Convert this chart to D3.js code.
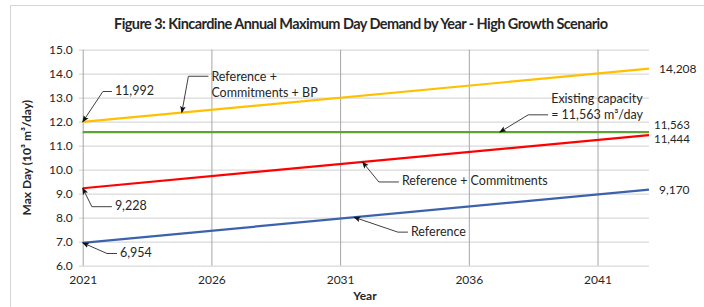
<!DOCTYPE html>
<html>
<head>
<meta charset="utf-8">
<script src="https://cdn.jsdelivr.net/npm/d3@7"></script>
<style>
	body { margin: 0; background: #fff; }
	text { font-family: Lato, "Open Sans", sans-serif; fill: #262626; }
</style>
</head>
<body>
<div id="chart"></div>
<script>
var years = [2021, 2043];
var referenceValues = [6.954, 9.170];
var commitmentsValues = [9.228, 11.444];
var commitmentsBpValues = [11.992, 14.208];
var capacityValues = [11.563, 11.563];

var xTicks = [2021, 2026, 2031, 2036, 2041];
var yTicks = [6, 7, 8, 9, 10, 11, 12, 13, 14, 15];

var seriesNames = ["Reference + Commitments + BP", "Existing capacity", "Reference + Commitments", "Reference"];
var seriesValues = [commitmentsBpValues, capacityValues, commitmentsValues, referenceValues];
var seriesColors = ["#ffc000", "#5fa332", "#ff0000", "#3d62ad"];

// callouts: text lines, arrow target (year, value), text anchor (year, value)
var calloutText = [
	["11,992"],
	["Reference +", "Commitments + BP"],
	["Existing capacity", "= 11,563 m\u00b3/day"],
	["Reference + Commitments"],
	["Reference"],
	["9,228"],
	["6,954"]
];
var calloutTarget = [
	[2021, 11.992], [2024.85, 12.38], [2037.2, 11.563], [2031.87, 10.32],
	[2031.54, 8.02], [2021, 9.228], [2021, 6.954]
];
var calloutAnchor = [
	[2022.25, 13.3], [2026.0, 13.55], [2039.2, 12.63], [2033.4, 9.53],
	[2033.75, 7.44], [2022.25, 8.5], [2022.45, 6.55]
];

var endLabels = ["14,208", "11,563", "11,444", "9,170"];
var endLabelShift = [0, -6.8, 3.6, 0];

var width = 704,
	height = 307,
	plot = { left: 82.7, right: 649, top: 49.7, bottom: 265.7 };

var svg = d3.select("#chart")
	.append("svg")
	.attr("width", width)
	.attr("height", height);

var xScale = d3.scaleLinear().domain([2021, 2043]).range([plot.left, plot.right]);
var yScale = d3.scaleLinear().domain([6, 15]).range([plot.bottom, plot.top]);

// frame
svg.append("path")
	.attr("d", "M10.5," + height + "V5.5H" + width)
	.attr("fill", "none")
	.attr("stroke", "#d4d4d4");

svg.append("defs").append("marker")
	.attr("id", "arrow")
	.attr("viewBox", "0 0 10 10")
	.attr("refX", 9)
	.attr("refY", 5)
	.attr("markerWidth", 7)
	.attr("markerHeight", 7)
	.attr("orient", "auto")
	.append("path")
	.attr("d", "M0,1L10,5L0,9L2,5Z")
	.attr("fill", "#111");

// title
svg.append("text")
	.attr("x", 361)
	.attr("y", 29)
	.attr("text-anchor", "middle")
	.style("font-size", "14.5px")
	.style("font-weight", "bold")
	.attr("textLength", 494)
	.text("Figure 3: Kincardine Annual Maximum Day Demand by Year - High Growth Scenario");

// horizontal grid + y axis labels
var yAxis = d3.axisLeft(yScale)
	.tickValues(yTicks)
	.tickFormat(d3.format(".1f"))
	.tickSize(-(plot.right - plot.left) - 4)
	.tickPadding(6);

var yAxisGroup = svg.append("g")
	.attr("transform", "translate(" + (plot.left - 4) + ",0)")
	.call(yAxis);
yAxisGroup.select(".domain").remove();
yAxisGroup.selectAll("line").attr("stroke", "#d9d9d9").attr("stroke-width", 1.2);
yAxisGroup.selectAll("text").style("font-size", "12px").attr("fill", "#262626").attr("x", -6);

// vertical grid + x axis labels
var xAxis = d3.axisBottom(xScale)
	.tickValues(xTicks)
	.tickFormat(d3.format("d"))
	.tickSize(-(plot.bottom - plot.top))
	.tickPadding(10);

var xAxisGroup = svg.append("g")
	.attr("transform", "translate(0," + plot.bottom + ")")
	.call(xAxis);
xAxisGroup.select(".domain").remove();
xAxisGroup.selectAll("line").attr("stroke", "#a6a6a6");
xAxisGroup.selectAll("text").style("font-size", "12px").attr("fill", "#262626");

// axis titles
svg.append("text")
	.attr("x", 365)
	.attr("y", 300)
	.attr("text-anchor", "middle")
	.style("font-size", "12px")
	.style("font-weight", "bold")
	.text("Year");

svg.append("text")
	.attr("transform", "translate(31," + ((plot.top + plot.bottom) / 2) + ") rotate(-90)")
	.attr("text-anchor", "middle")
	.style("font-size", "12px")
	.style("font-weight", "bold")
	.text("Max Day (10\u00b3 m\u00b3/day)");

// series lines
var line = d3.line()
	.x(function (d) { return xScale(d[0]); })
	.y(function (d) { return yScale(d[1]); });

seriesValues.forEach(function (values, i) {
	svg.append("path")
		.datum(years.map(function (y, j) { return [y, values[j]]; }))
		.attr("d", line)
		.attr("fill", "none")
		.attr("stroke", seriesColors[i])
		.attr("stroke-width", 2.2)
		.attr("class", "series-" + i)
		.append("title").text(seriesNames[i]);
});

// value labels at line ends
endLabels.forEach(function (label, i) {
	var values = seriesValues[i];
	svg.append("text")
		.attr("x", xScale(years[1]) + (i === 1 || i === 2 ? 5 : 10))
		.attr("y", yScale(values[values.length - 1]) + endLabelShift[i])
		.attr("dy", "0.35em")
		.style("font-size", (i === 1 || i === 2) ? "11.5px" : "12px")
		.text(label);
});

// callouts with leader arrows
calloutText.forEach(function (lines, i) {
	var tx = xScale(calloutTarget[i][0]),
		ty = yScale(calloutTarget[i][1]),
		ax = xScale(calloutAnchor[i][0]),
		ay = yScale(calloutAnchor[i][1]);
	var lineHeight = 16.5;
	var textTop = ay - (lines.length > 1 ? lineHeight / 2 : 0);

	var g = svg.append("g");
	lines.forEach(function (t, k) {
		g.append("text")
			.attr("x", ax)
			.attr("y", textTop + k * lineHeight)
			.attr("dy", "0.35em")
			.style("font-size", "12.5px")
			.text(t);
	});

	// leader leaves the text from its left side, runs flat, then slants to the target
	var startY = ay + (lines.length > 1 ? 0 : 1);
	if (i === 1) startY = textTop;
	if (i === 2) startY = textTop + lineHeight;
	var startX = ax - 3;
	var kneeX = startX - (i === 4 || i === 6 ? 10 : i === 0 ? 9 : 20);
	g.append("path")
		.attr("d", "M" + startX + "," + startY + "H" + kneeX + "L" + tx + "," + ty)
		.attr("fill", "none")
		.attr("stroke", "#404040")
		.attr("stroke-width", 1)
		.attr("marker-end", "url(#arrow)");
});
</script>
</body>
</html>
